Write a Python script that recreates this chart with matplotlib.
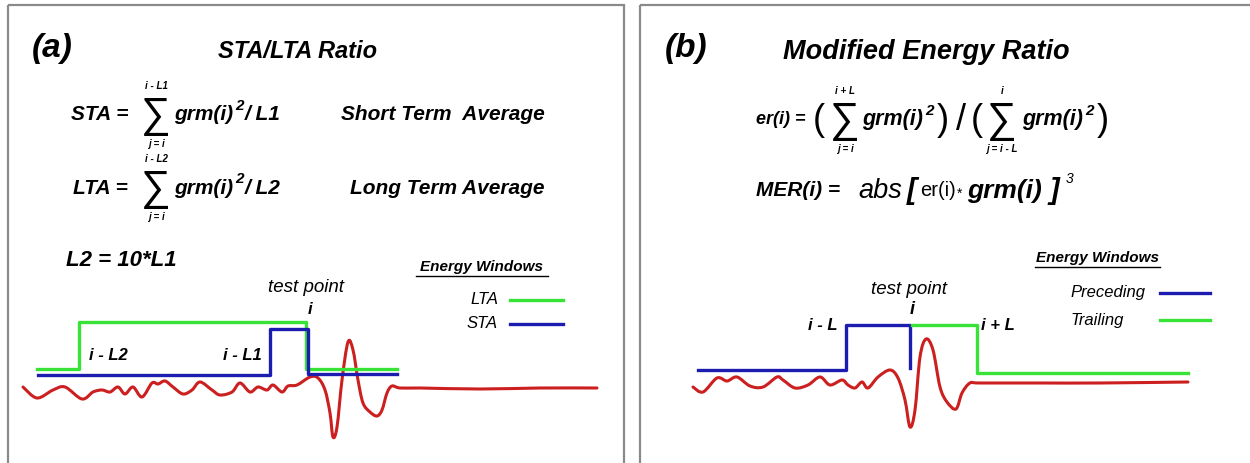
"""STA/LTA and Modified Energy Ratio picking windows"""

import matplotlib.pyplot as plt
from matplotlib.patches import PathPatch, Rectangle
from matplotlib.path import Path

# <><><><><><><><><><><><><><><><><><><><><><><><><><><><><><><><><><><><><><><>
# Data (drawing units: pixels, y pointing down)

# Panel (a): seismogram trace
wave_a_x = [23, 37, 53, 65, 82, 93, 102, 110, 118, 125, 133, 142, 152, 158,
            165, 173, 183, 192, 200, 212, 220, 232, 240, 250, 258, 267, 273,
            282, 288, 297, 310, 318, 325, 330, 333, 337, 342, 348, 353, 358,
            363, 370, 377, 382, 387, 392, 400, 420, 480, 540, 597]
wave_a_y = [387, 398, 390, 387, 399, 392, 390, 392, 387, 394, 387, 397, 383,
            384, 381, 387, 394, 390, 382, 390, 395, 392, 383, 392, 387, 390,
            385, 392, 386, 385, 377, 378, 390, 413, 437, 427, 380, 342, 350,
            380, 403, 412, 416, 410, 393, 386, 388, 388, 389, 388, 388]

# Panel (a): energy windows (step outlines)
lta_x = [37, 79, 79, 306, 306, 397]
lta_y = [369, 369, 322, 322, 369, 369]
sta_x = [38, 270, 270, 308, 308, 397]
sta_y = [375, 375, 329, 329, 374, 374]

# Panel (b): seismogram trace
wave_b_x = [693, 703, 717, 727, 737, 750, 763, 777, 783, 795, 808, 820, 830,
            842, 848, 855, 862, 868, 878, 890, 898, 905, 910, 915, 920, 926,
            933, 940, 947, 956, 962, 970, 980, 1040, 1100, 1188]
wave_b_y = [387, 392, 378, 381, 377, 386, 387, 377, 380, 388, 385, 377, 385,
            380, 385, 388, 382, 388, 377, 370, 378, 400, 427, 410, 357, 339,
            350, 387, 402, 409, 393, 383, 383, 383, 383, 382]

# Panel (b): energy windows
pre_x = [698, 846, 846, 910, 910]
pre_y = [370, 370, 325, 325, 368]
trail_x = [912, 977, 977, 1188]
trail_y = [325, 325, 373, 373]

# <><><><><><><><><><><><><><><><><><><><><><><><><><><><><><><><><><><><><><><>

RED = "#cc1f1f"
GREEN = "#36e336"
BLUE = "#1c1cb0"
FONT = ["Liberation Sans", "DejaVu Sans"]
BI = dict(family=FONT, fontweight="bold", fontstyle="italic", color="black")
IT = dict(family=FONT, fontstyle="italic", color="black")
RG = dict(family=FONT, color="black")


def smooth_trace(xs, ys):
    # catmull-rom curve through every sample, drawn as cubic beziers
    pts = list(zip(xs, ys))
    pts = [pts[0]] + pts + [pts[-1]]
    verts = [pts[1]]
    codes = [Path.MOVETO]
    for i in range(1, len(pts) - 2):
        p0, p1, p2, p3 = pts[i - 1], pts[i], pts[i + 1], pts[i + 2]
        c1 = (p1[0] + (p2[0] - p0[0]) / 6, p1[1] + (p2[1] - p0[1]) / 6)
        c2 = (p2[0] - (p3[0] - p1[0]) / 6, p2[1] - (p3[1] - p1[1]) / 6)
        verts += [c1, c2, p2]
        codes += [Path.CURVE4] * 3
    return PathPatch(Path(verts, codes), fill=False, edgecolor=RED, lw=2.2,
                     capstyle="round", joinstyle="round")


fig = plt.figure(figsize=(12.5, 4.63), dpi=100)
ax = fig.add_axes([0, 0, 1, 1])
ax.set_xlim(0, 1250)
ax.set_ylim(463, 0)
ax.axis("off")

# panel frames
for x0, w in [(8, 616), (640, 700)]:
    ax.add_patch(
        Rectangle((x0, 5), w, 520, fill=False, edgecolor="#8a8a8a", lw=1.6)
    )

# traces and windows
ax.add_patch(smooth_trace(wave_a_x, wave_a_y))
ax.plot(lta_x, lta_y, color=GREEN, lw=2.4)
ax.plot(sta_x, sta_y, color=BLUE, lw=2.4)
ax.add_patch(smooth_trace(wave_b_x, wave_b_y))
ax.plot(pre_x, pre_y, color=BLUE, lw=2.4)
ax.plot(trail_x, trail_y, color=GREEN, lw=2.4)


def sigma(x, y, top, bottom):
    ax.text(x, y + 1, "\u2211", fontsize=30, ha="center", va="center", **RG)
    ax.text(x, y - 29, top, fontsize=7, ha="center", va="center", **BI)
    ax.text(x, y + 29, bottom, fontsize=7, ha="center", va="center", **BI)


# ---- panel (a) text
ax.text(32, 48, "(a)", fontsize=24, va="center", **BI)
ax.text(298, 52, "STA/LTA Ratio", fontsize=17, ha="center", va="center", **BI)

for y, name, den, label in [
    (115, "STA", "L1", "Short Term  Average"),
    (188, "LTA", "L2", "Long Term Average"),
]:
    ax.text(134, y, name + " = ", fontsize=15, ha="right", va="center", **BI)
    sigma(156, y, "i - " + den, "j = i")
    ax.text(174, y, "grm(i)", fontsize=15, va="center", **BI)
    ax.text(235, y - 9, "2", fontsize=11, va="center", **BI)
    ax.text(245, y, "/ " + den, fontsize=15, va="center", **BI)
    ax.text(545, y, label, fontsize=15, ha="right", va="center", **BI)

ax.text(66, 260, "L2 = 10*L1", fontsize=16, va="center", **BI)

ax.text(482, 267, "Energy Windows", fontsize=11, ha="center", va="center",
        **BI)
ax.plot([416, 548], [276, 276], color="black", lw=1)
ax.text(306, 288, "test point", fontsize=13.5, ha="center", va="center", **IT)
ax.text(310, 310, "i", fontsize=12, ha="center", va="center", **BI)
ax.text(108, 356, "i - L2", fontsize=12, ha="center", va="center", **BI)
ax.text(242, 356, "i - L1", fontsize=12, ha="center", va="center", **BI)

ax.text(498, 300, "LTA", fontsize=12, ha="right", va="center", **IT)
ax.plot([510, 563], [300, 300], color=GREEN, lw=2.4)
ax.text(498, 324, "STA", fontsize=12, ha="right", va="center", **IT)
ax.plot([510, 563], [324, 324], color=BLUE, lw=2.4)

# ---- panel (b) text
ax.text(665, 48, "(b)", fontsize=24, va="center", **BI)
ax.text(926, 52, "Modified Energy Ratio", fontsize=19.5, ha="center",
        va="center", **BI)

y = 120
ax.text(756, y, "er(i) =", fontsize=13, va="center", **BI)
ax.text(819, y, "(", fontsize=26, ha="center", va="center", **RG)
sigma(845, y, "i + L", "j = i")
ax.text(862, y, "grm(i)", fontsize=15.5, va="center", **BI)
ax.text(925, y - 9, "2", fontsize=11, va="center", **BI)
ax.text(943, y, ")", fontsize=26, ha="center", va="center", **RG)
ax.text(961, y, "/", fontsize=26, ha="center", va="center", **RG)
ax.text(977, y, "(", fontsize=26, ha="center", va="center", **RG)
sigma(1002, y, "i", "j = i - L")
ax.text(1022, y, "grm(i)", fontsize=15.5, va="center", **BI)
ax.text(1085, y - 9, "2", fontsize=11, va="center", **BI)
ax.text(1103, y, ")", fontsize=26, ha="center", va="center", **RG)

y = 191
ax.text(756, y, "MER(i) =", fontsize=15, va="center", **BI)
ax.text(858, y, "abs", fontsize=19.5, va="center", **IT)
ax.text(907, y, "[", fontsize=21, va="center", **BI)
ax.text(920, y, "er(i)", fontsize=14.5, va="center", **RG)
ax.text(957, y + 3, "*", fontsize=10, va="center", **RG)
ax.text(967, y, "grm(i)", fontsize=19, va="center", **BI)
ax.text(1049, y, "]", fontsize=21, va="center", **BI)
ax.text(1066, y - 12, "3", fontsize=10, va="center", **IT)

ax.text(1097, 258, "Energy Windows", fontsize=11, ha="center", va="center",
        **BI)
ax.plot([1035, 1160], [267, 267], color="black", lw=1)
ax.text(909, 289, "test point", fontsize=13.5, ha="center", va="center", **IT)
ax.text(912, 310, "i", fontsize=13, ha="center", va="center", **BI)
ax.text(823, 326, "i - L", fontsize=12, ha="center", va="center", **BI)
ax.text(998, 326, "i + L", fontsize=12, ha="center", va="center", **BI)

ax.text(1070, 293, "Preceding", fontsize=12, va="center", **IT)
ax.plot([1160, 1210], [293, 293], color=BLUE, lw=2.4)
ax.text(1070, 320, "Trailing", fontsize=12, va="center", **IT)
ax.plot([1160, 1210], [320, 320], color=GREEN, lw=2.4)

fig.savefig("out.png", dpi=100)
